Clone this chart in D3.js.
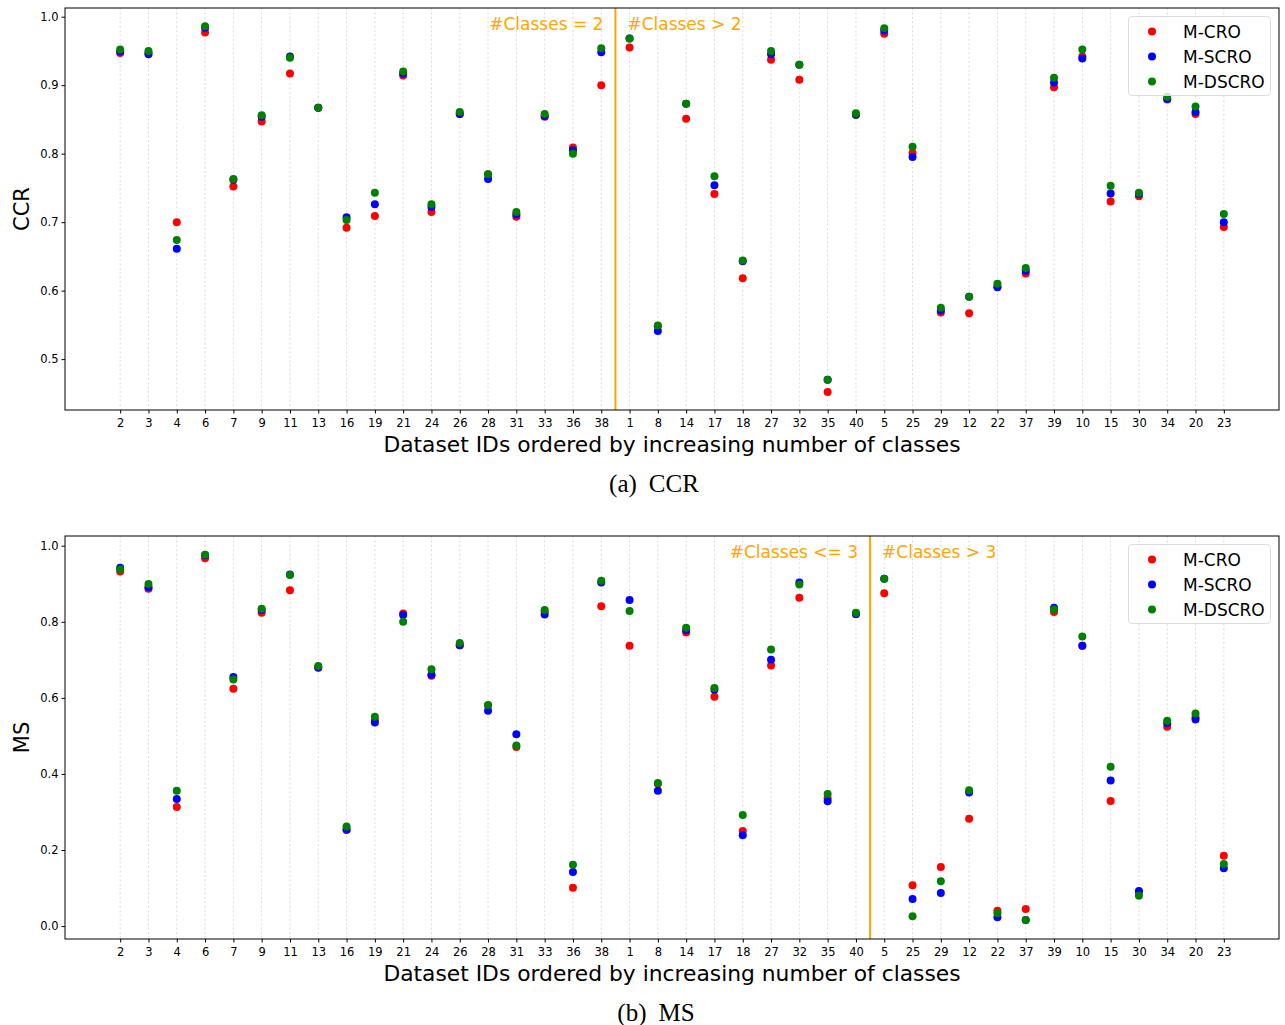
<!DOCTYPE html>
<html>
<head>
<meta charset="utf-8">
<script src="https://cdn.jsdelivr.net/npm/d3@7"></script>
<style>
  body { margin: 0; background: #fff; }
  svg text { font-family: "DejaVu Sans", sans-serif; }
</style>
</head>
<body>
<div id="chart"></div>
<script>
// dataset ids, ordered by increasing number of classes
var idsCCR = [2,3,4,6,7,9,11,13,16,19,21,24,26,28,31,33,36,38,1,8,14,17,18,27,32,35,40,5,25,29,12,22,37,39,10,15,30,34,20,23];
var idsMS = idsCCR;

// CCR values
var ccrCRO   = [0.947,0.947,0.700,0.977,0.752,0.847,0.917,0.867,0.692,0.709,0.914,0.715,0.858,0.770,0.708,0.854,0.809,0.900,0.955,0.548,0.851,0.741,0.618,0.937,0.908,0.452,0.857,0.975,0.801,0.568,0.567,0.606,0.625,0.897,0.942,0.730,0.738,0.879,0.858,0.693];
var ccrSCRO  = [0.949,0.945,0.661,0.984,0.762,0.854,0.942,0.867,0.707,0.726,0.917,0.722,0.858,0.763,0.711,0.855,0.805,0.948,0.968,0.541,0.873,0.754,0.643,0.945,0.930,0.470,0.857,0.980,0.795,0.571,0.591,0.605,0.629,0.904,0.939,0.742,0.741,0.880,0.861,0.700];
var ccrDSCRO = [0.952,0.950,0.674,0.986,0.763,0.856,0.940,0.867,0.703,0.743,0.920,0.726,0.861,0.770,0.715,0.858,0.800,0.954,0.968,0.549,0.873,0.767,0.644,0.950,0.930,0.470,0.859,0.983,0.810,0.575,0.591,0.610,0.633,0.911,0.952,0.753,0.743,0.883,0.869,0.712];

// MS values
var msCRO   = [0.932,0.887,0.313,0.967,0.624,0.824,0.883,0.679,0.253,0.542,0.822,0.658,0.738,0.580,0.471,0.827,0.101,0.841,0.737,0.374,0.772,0.603,0.250,0.685,0.863,0.336,0.822,0.875,0.107,0.155,0.282,0.040,0.045,0.826,0.737,0.329,0.088,0.524,0.549,0.185];
var msSCRO  = [0.942,0.891,0.334,0.975,0.655,0.831,0.924,0.680,0.253,0.535,0.818,0.661,0.738,0.566,0.504,0.819,0.142,0.903,0.857,0.356,0.778,0.621,0.239,0.700,0.903,0.328,0.820,0.913,0.071,0.087,0.351,0.023,0.016,0.837,0.737,0.383,0.092,0.533,0.543,0.152];
var msDSCRO = [0.938,0.899,0.356,0.976,0.648,0.834,0.923,0.684,0.262,0.550,0.800,0.675,0.744,0.581,0.475,0.831,0.161,0.908,0.828,0.376,0.784,0.626,0.292,0.727,0.898,0.347,0.824,0.913,0.026,0.118,0.357,0.034,0.016,0.833,0.761,0.419,0.080,0.540,0.559,0.163];

var methods = ["M-CRO", "M-SCRO", "M-DSCRO"];
var colors = ["red", "blue", "green"];

var ccrTicks = [0.5, 0.6, 0.7, 0.8, 0.9, 1.0];
var msTicks = [0.0, 0.2, 0.4, 0.6, 0.8, 1.0];

var W = 1285, H = 1025;
var svg = d3.select("#chart").append("svg")
  .attr("width", W)
  .attr("height", H);

function panel(opts) {
  var left = 65, right = 1279;
  var x = d3.scaleLinear().domain([-1.95, opts.ids.length - 1 + 1.95]).range([left, right]);
  var y = d3.scaleLinear().domain(opts.yDomain).range([opts.bottom, opts.top]);

  var g = svg.append("g");

  // dashed vertical grid
  g.selectAll("line.grid")
    .data(opts.ids)
    .enter()
    .append("line")
    .attr("x1", function (d, i) { return x(i); })
    .attr("x2", function (d, i) { return x(i); })
    .attr("y1", opts.top)
    .attr("y2", opts.bottom)
    .style("stroke", "#b0b0b0")
    .style("stroke-width", 0.6)
    .style("stroke-dasharray", "2.2,2.2")
    .style("opacity", 0.7);

  // separator
  g.append("line")
    .attr("x1", x(opts.split))
    .attr("x2", x(opts.split))
    .attr("y1", opts.top)
    .attr("y2", opts.bottom)
    .style("stroke", "orange")
    .style("stroke-width", 2);

  g.append("text")
    .text(opts.leftText)
    .attr("x", x(opts.split) - 12)
    .attr("y", opts.top + 22)
    .attr("text-anchor", "end")
    .style("fill", "orange")
    .style("font-size", "17px");

  g.append("text")
    .text(opts.rightText)
    .attr("x", x(opts.split) + 12)
    .attr("y", opts.top + 22)
    .style("fill", "orange")
    .style("font-size", "17px");

  // points: red, then blue, then green on top
  opts.series.forEach(function (vals, k) {
    g.append("g")
      .selectAll("circle")
      .data(vals)
      .enter()
      .append("circle")
      .attr("cx", function (d, i) { return x(i); })
      .attr("cy", function (d) { return y(d); })
      .attr("r", 4)
      .style("fill", colors[k]);
  });

  // axes
  var xAxis = d3.axisBottom(x)
    .tickValues(d3.range(opts.ids.length))
    .tickFormat(function (i) { return opts.ids[i]; })
    .tickSize(3.5)
    .tickSizeOuter(0);
  var gx = g.append("g")
    .attr("transform", "translate(0," + opts.bottom + ")")
    .call(xAxis);
  gx.select(".domain").remove();
  gx.selectAll("text").style("font-size", "11.5px").style("font-family", "DejaVu Sans").attr("dy", "0.95em");

  var yAxis = d3.axisLeft(y)
    .tickValues(opts.yTicks)
    .tickFormat(d3.format(".1f"))
    .tickSize(3.5)
    .tickSizeOuter(0);
  var gy = g.append("g")
    .attr("transform", "translate(" + left + ",0)")
    .call(yAxis);
  gy.select(".domain").remove();
  gy.selectAll("text").style("font-size", "11.5px").style("font-family", "DejaVu Sans");

  // frame
  g.append("rect")
    .attr("x", left)
    .attr("y", opts.top)
    .attr("width", right - left)
    .attr("height", opts.bottom - opts.top)
    .style("fill", "none")
    .style("stroke", "black")
    .style("stroke-width", 1);

  // legend
  var lg = g.append("g");
  lg.append("rect")
    .attr("x", 1128.5)
    .attr("y", opts.top + 8.5)
    .attr("width", 142)
    .attr("height", 79)
    .attr("rx", 3)
    .style("fill", "white")
    .style("fill-opacity", 0.8)
    .style("stroke", "#dcdcdc")
    .style("stroke-width", 1);
  methods.forEach(function (m, k) {
    lg.append("circle")
      .attr("cx", 1152)
      .attr("cy", opts.top + 23.5 + k * 25)
      .attr("r", 4)
      .style("fill", colors[k]);
    lg.append("text")
      .text(m)
      .attr("x", 1183)
      .attr("y", opts.top + 23.5 + k * 25)
      .attr("dy", "0.36em")
      .style("font-size", "17px");
  });

  // labels
  g.append("text")
    .text("Dataset IDs ordered by increasing number of classes")
    .attr("x", (left + right) / 2)
    .attr("y", opts.bottom + 42)
    .attr("text-anchor", "middle")
    .style("font-size", "21.8px");

  g.append("text")
    .text(opts.yLabel)
    .attr("transform", "translate(29," + (opts.top + opts.bottom) / 2 + ") rotate(-90)")
    .attr("text-anchor", "middle")
    .style("font-size", "21px");

  var cap = g.append("text")
    .attr("x", opts.capX)
    .attr("y", opts.bottom + 82)
    .attr("text-anchor", "middle")
    .style("font-family", "Liberation Serif, serif")
    .style("font-size", "25px");
  cap.append("tspan").text(opts.capTag);
  cap.append("tspan").attr("dx", 12).text(opts.caption);
}

panel({
  ids: idsCCR,
  series: [ccrCRO, ccrSCRO, ccrDSCRO],
  top: 8, bottom: 410,
  yDomain: [0.4257, 1.0127],
  yTicks: ccrTicks,
  split: 17.5,
  leftText: "#Classes = 2",
  rightText: "#Classes > 2",
  yLabel: "CCR",
  capTag: "(a)",
  caption: "CCR",
  capX: 654
});

panel({
  ids: idsMS,
  series: [msCRO, msSCRO, msDSCRO],
  top: 536, bottom: 939,
  yDomain: [-0.034, 1.0255],
  yTicks: msTicks,
  split: 26.5,
  leftText: "#Classes <= 3",
  rightText: "#Classes > 3",
  yLabel: "MS",
  capTag: "(b)",
  caption: "MS",
  capX: 656
});
</script>
</body>
</html>
